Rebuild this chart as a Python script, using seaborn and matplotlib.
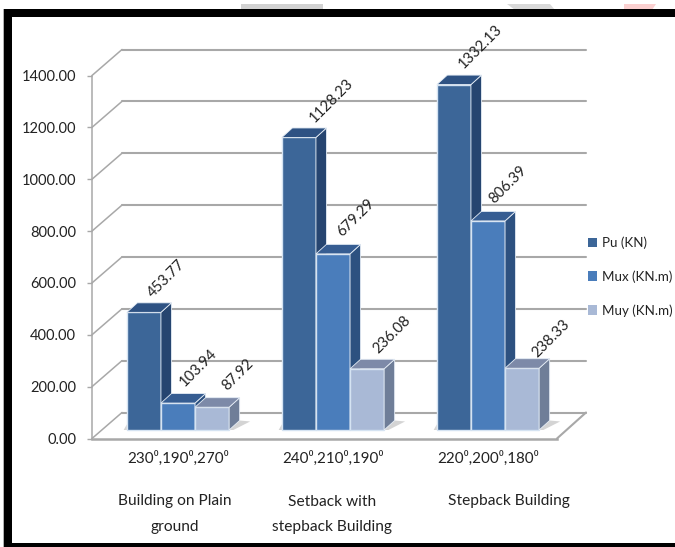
import matplotlib
matplotlib.use("Agg")
import matplotlib.pyplot as plt
import pandas as pd
import seaborn as sns
from matplotlib.patches import Polygon, Rectangle
from matplotlib.transforms import Affine2D, IdentityTransform, blended_transform_factory

angle_labels = ["230⁰,190⁰,270⁰", "240⁰,210⁰,190⁰", "220⁰,200⁰,180⁰"]
group_names = ["Building on Plain\nground", "Setback with\nstepback Building", "Stepback Building"]
series_names = ["Pu (KN)", "Mux (KN.m)", "Muy (KN.m)"]
pu_values = [453.77, 1128.23, 1332.13]
mux_values = [103.94, 679.29, 806.39]
muy_values = [87.92, 236.08, 238.33]
y_ticks = [0, 200, 400, 600, 800, 1000, 1200, 1400]

face_colors = ["#3c6698", "#4a7dbb", "#a9b9d6"]
side_colors = ["#264570", "#2d5180", "#6f7e98"]
top_colors = ["#2e5283", "#365d92", "#7d8aa8"]
edge_color = "#d5e3f2"
grid_color = "#a8a8a8"
text_color = "#222222"

# label centre offsets from the top of each bar, in pixels (series by group)
label_dx = [[23, 33, 27], [20, 23, 20], [26, 25, 29]]
label_dy = [[34, 37, 38], [35, 36, 36], [32, 34, 30]]

W, H = 675, 547
sns.set_theme(style="white")
plt.rcParams["font.family"] = ["Lato", "DejaVu Sans"]
plt.rcParams["font.size"] = 10
FS_TICK = 10.5
FS_VALUE = 10.7
FS_ANGLE = 10.9
FS_NAME = 11.2
FS_LEGEND = 9.6

fig = plt.figure(figsize=(W / 100, H / 100), dpi=100, facecolor="white")

# picture frame and cropped artefacts at the top edge
bg = fig.add_axes([0, 0, 1, 1], zorder=0)
bg.set_xlim(0, W)
bg.set_ylim(H, 0)
bg.axis("off")
bg.add_patch(Rectangle((241, 4), 82, 6, color="#d2d2d2", lw=0))
bg.add_patch(Polygon([(507, 4), (550, 4), (555, 10), (515, 10)], color="#d9d9d9", lw=0))
bg.add_patch(Polygon([(624, 4), (656, 4), (652, 10), (624, 10)], color="#fbd0d0", lw=0))
bg.add_patch(Rectangle((4, 9), W - 4, 8, color="black", lw=0))
bg.add_patch(Rectangle((4, 9), 8, H - 9, color="black", lw=0))
bg.add_patch(Rectangle((3, 9), 1, H - 9, color="#b0b0b0", lw=0))
bg.add_patch(Rectangle((4, 543), W - 4, 4, color="black", lw=0))

# main axes = front plane of the 3-D box
LEFT, RIGHT, TOP, BOTTOM = 92, 557, 75.5, 438.5
ax = fig.add_axes([LEFT / W, 1 - BOTTOM / H, (RIGHT - LEFT) / W, (BOTTOM - TOP) / H], zorder=1)
ax.patch.set_alpha(0)

df = pd.DataFrame({
    "group": angle_labels * 3,
    "series": sum([[s] * 3 for s in series_names], []),
    "value": pu_values + mux_values + muy_values,
})
sns.barplot(data=df, x="group", y="value", hue="series", order=angle_labels, hue_order=series_names,
            palette=face_colors, saturation=1, width=0.66, gap=0, dodge=True, errorbar=None,
            edgecolor=edge_color, linewidth=1.0, ax=ax)

px_x = (RIGHT - LEFT) / 3
ax.set_xlim(-(178 - LEFT) / px_x, (RIGHT - 178) / px_x)
ax.set_ylim(0, 1400)
px_y = (BOTTOM - TOP) / 1400
ax.set_xlabel("")
ax.set_ylabel("")
ax.set_yticks(y_ticks)
ax.set_yticklabels([f"{v:.2f}" for v in y_ticks], fontsize=FS_TICK, color=text_color)
ax.tick_params(axis="y", left=True, length=3.5, width=1, color=grid_color, pad=8)
ax.tick_params(axis="x", bottom=False, length=0, pad=9, labelsize=FS_ANGLE, labelcolor=text_color)
for name in ["top", "right"]:
    ax.spines[name].set_visible(False)
ax.spines["left"].set_color(grid_color)
ax.spines["left"].set_linewidth(1.1)
ax.spines["bottom"].set_color(grid_color)
ax.spines["bottom"].set_linewidth(1.8)

# back wall grid, diagonals, floor
BACK_DX, BACK_DY = 30, 26
back_left, back_right = LEFT + BACK_DX, RIGHT + 29
back_tf = blended_transform_factory(IdentityTransform(), ax.transData + Affine2D().translate(0, BACK_DY))
for v in y_ticks:
    ax.plot([back_left, back_right], [v, v], transform=back_tf, color=grid_color, lw=1.5, zorder=1, clip_on=False)
    yv = ax.transData.transform((0, v))[1]
    ax.add_line(plt.Line2D([LEFT, back_left], [yv, yv + BACK_DY], transform=IdentityTransform(),
                           color=grid_color, lw=1.1, zorder=1, clip_on=False))
y0 = ax.transData.transform((0, 0))[1]
ax.add_line(plt.Line2D([RIGHT, back_right], [y0, y0 + BACK_DY], transform=IdentityTransform(),
                       color=grid_color, lw=1.5, zorder=1, clip_on=False))

# 3-D bars: lift the front faces off the floor, add side and top faces
LIFT = 8.5
DEPTH_X, DEPTH_Y = 10.5, 9.5
lift_tf = ax.transData + Affine2D().translate(0, LIFT)
dx = DEPTH_X / px_x
dy = DEPTH_Y / px_y
for i, cont in enumerate(ax.containers):
    for j, p in enumerate(cont.patches):
        x0, x1, h = p.get_x(), p.get_x() + p.get_width(), p.get_height()
        p.set_transform(lift_tf)
        p.set_clip_on(False)
        p.set_zorder(3 + i)
        side = Polygon([(x1, 0), (x1 + dx, dy), (x1 + dx, h + dy), (x1, h)], closed=True, transform=lift_tf,
                       facecolor=side_colors[i], edgecolor="#e4ecf5", lw=0.6, zorder=3.1 + i, clip_on=False)
        top = Polygon([(x0, h), (x1, h), (x1 + dx, h + dy), (x0 + dx, h + dy)], closed=True, transform=lift_tf,
                      facecolor=top_colors[i], edgecolor="#e4ecf5", lw=0.6, zorder=3.2 + i, clip_on=False)
        ax.add_patch(side)
        ax.add_patch(top)
        ax.annotate(f"{h:.2f}", xy=((x0 + x1) / 2, h), xycoords=lift_tf,
                    xytext=(label_dx[i][j] * 0.72, label_dy[i][j] * 0.72), textcoords="offset points",
                    rotation=45, rotation_mode="anchor", ha="center", va="center",
                    fontsize=FS_VALUE, color=text_color, zorder=10, annotation_clip=False)
        if i == 2:
            shadow = Polygon([(x1, 0), (x1 + dx, dy), (x1 + 2.0 * dx, dy * 0.9), (x1 + 0.4 * dx, 0)], closed=True,
                             transform=lift_tf, facecolor="#d4d4d4", lw=0, zorder=2, clip_on=False)
            ax.add_patch(shadow)
        if i == 0:
            shadow = Polygon([(x0, 0), (x0 - 0.3 * dx, 0), (x0, dy * 0.6)], closed=True,
                             transform=lift_tf, facecolor="#d4d4d4", lw=0, zorder=2, clip_on=False)
            ax.add_patch(shadow)

# scenario names below the angle labels
name_dx = [-3, -1, 21]
for i, name in enumerate(group_names):
    ax.annotate(name, xy=(i, 0), xycoords=ax.get_xaxis_transform(),
                xytext=(name_dx[i] * 0.72, -56 * 0.72), textcoords="offset points",
                ha="center", va="top", fontsize=FS_NAME, color=text_color, linespacing=2.05,
                annotation_clip=False)

handles, labels = ax.get_legend_handles_labels()
leg = ax.legend(handles, labels, loc="center left", bbox_to_anchor=(588 / W, 1 - 276.5 / H),
                bbox_transform=fig.transFigure, frameon=False, fontsize=FS_LEGEND, handlelength=0.7, handleheight=0.7,
                handletextpad=0.35, labelspacing=1.6, borderpad=0, borderaxespad=0, labelcolor=text_color)
for h in leg.legend_handles:
    h.set_linewidth(0)
leg.set_zorder(12)

fig.savefig("out.png", dpi=100)
